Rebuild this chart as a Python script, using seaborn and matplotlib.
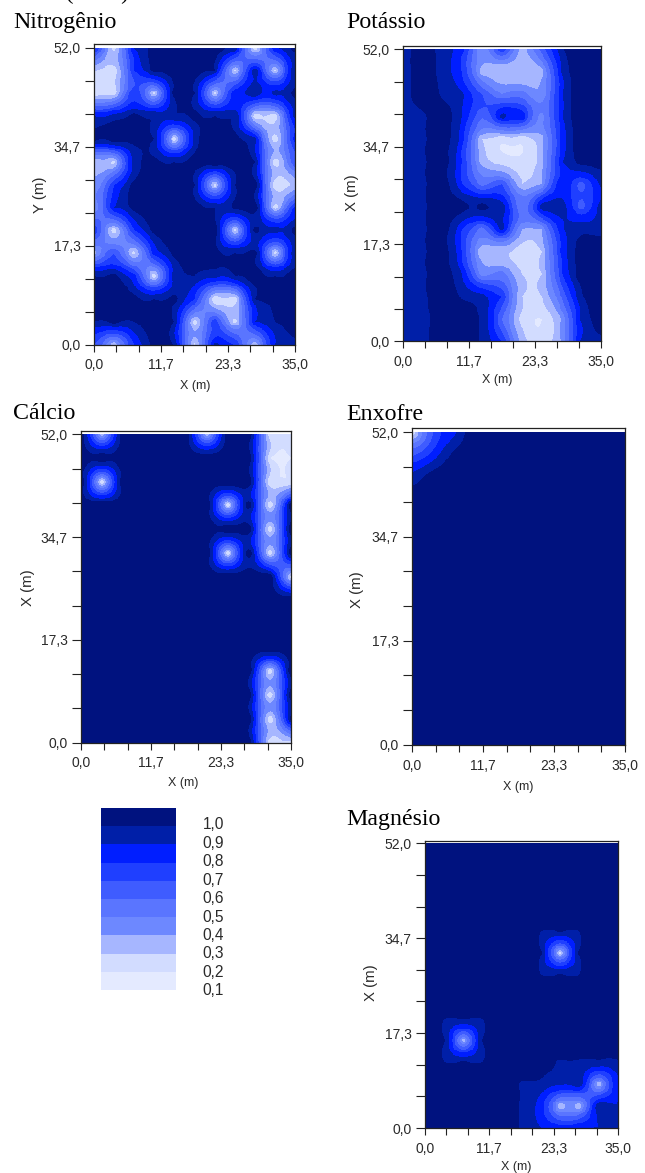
import numpy as np
import matplotlib
matplotlib.use("Agg")
import matplotlib.pyplot as plt
from matplotlib.colors import ListedColormap, BoundaryNorm
from matplotlib.transforms import Affine2D
import seaborn as sns

W, H = 645, 1173

# sampling grid of the maps
grid_x = [0, 3.5, 7, 10.5, 14, 17.5, 21, 24.5, 28, 31.5, 35]
grid_y = [52, 48, 44, 40, 36, 32, 28, 24, 20, 16, 12, 8, 4, 0]

# values (rows run from Y=52 down to Y=0, columns from X=0 to X=35)
nitrogenio = [
    [.75, .15, .80, .95, 1.0, 1.0, 1.0, .90, .12, .80, .95],
    [.20, .12, .70, .95, 1.0, 1.0, .90, .15, .90, .15, .90],
    [.12, .12, .70, .15, .95, .90, .15, .80, .90, .85, .95],
    [.80, .85, .95, .90, .90, .95, .90, .90, .12, .12, .85],
    [.95, 1.0, .95, .90, .12, .85, 1.0, .95, .85, .12, .75],
    [.20, .15, .85, .95, .90, 1.0, 1.0, 1.0, .90, .12, .60],
    [.30, .70, .95, 1.0, 1.0, .90, .12, .90, 1.0, .10, .20],
    [.30, .80, .95, 1.0, 1.0, 1.0, .90, .95, 1.0, .12, .75],
    [.70, .12, .70, .95, 1.0, 1.0, 1.0, .12, .95, .85, .95],
    [.25, .60, .15, .75, .95, 1.0, .95, .90, .95, .12, .90],
    [.90, .95, .75, .12, .85, .90, .85, .90, 1.0, .90, 1.0],
    [1.0, 1.0, .95, .90, .95, .70, .10, .12, .90, .90, 1.0],
    [.90, .95, .90, 1.0, .90, .12, .70, .15, .80, .90, .95],
    [.60, .20, .70, .95, .90, .15, .85, .70, .20, .80, .90],
]
potassio = [
    [.85, .97, .85, .75, .30, .70, .25, .55, .88, 1.0, .90],
    [.85, .97, .85, .70, .25, .20, .20, .25, .80, 1.0, 1.0],
    [.85, .97, .88, .82, .60, .40, .45, .30, .78, 1.0, 1.0],
    [.85, .88, .97, .80, .50, .85, .80, .35, .78, 1.0, 1.0],
    [.85, .88, .97, .75, .20, .12, .12, .25, .72, 1.0, 1.0],
    [.85, .88, .97, .70, .25, .15, .12, .25, .78, .95, .97],
    [.85, .88, .97, .70, .45, .60, .20, .30, .80, .55, .82],
    [.85, .88, .97, .95, .95, .88, .40, .88, .88, .55, .85],
    [.85, .88, .97, .70, .45, .85, .30, .30, .78, .88, .85],
    [.85, .88, .97, .70, .20, .20, .12, .20, .72, .97, 1.0],
    [.85, .88, .97, .80, .35, .45, .20, .20, .68, .97, 1.0],
    [.85, .88, .97, .88, .85, .70, .20, .20, .50, .88, 1.0],
    [.85, .85, .97, 1.0, .88, .50, .15, .10, .30, .82, .95],
    [.85, .85, 1.0, 1.0, .88, .70, .25, .12, .30, .82, .88],
]
calcio = [
    [1.0, .20, 1.0, 1.0, 1.0, 1.0, .20, 1.0, 1.0, .12, .10],
    [1.0, 1.0, 1.0, 1.0, 1.0, 1.0, 1.0, 1.0, 1.0, .10, .10],
    [1.0, .10, 1.0, 1.0, 1.0, 1.0, 1.0, 1.0, 1.0, .10, .10],
    [1.0, 1.0, 1.0, 1.0, 1.0, 1.0, 1.0, .10, 1.0, .10, 1.0],
    [1.0, 1.0, 1.0, 1.0, 1.0, 1.0, 1.0, 1.0, 1.0, .10, 1.0],
    [1.0, 1.0, 1.0, 1.0, 1.0, 1.0, 1.0, .10, 1.0, .10, 1.0],
    [1.0, 1.0, 1.0, 1.0, 1.0, 1.0, 1.0, 1.0, 1.0, 1.0, .15],
    [1.0, 1.0, 1.0, 1.0, 1.0, 1.0, 1.0, 1.0, 1.0, 1.0, 1.0],
    [1.0, 1.0, 1.0, 1.0, 1.0, 1.0, 1.0, 1.0, 1.0, 1.0, 1.0],
    [1.0, 1.0, 1.0, 1.0, 1.0, 1.0, 1.0, 1.0, 1.0, 1.0, 1.0],
    [1.0, 1.0, 1.0, 1.0, 1.0, 1.0, 1.0, 1.0, 1.0, .10, 1.0],
    [1.0, 1.0, 1.0, 1.0, 1.0, 1.0, 1.0, 1.0, 1.0, .10, 1.0],
    [1.0, 1.0, 1.0, 1.0, 1.0, 1.0, 1.0, 1.0, 1.0, .10, .95],
    [1.0, 1.0, 1.0, 1.0, 1.0, 1.0, 1.0, 1.0, 1.0, .10, .15],
]
enxofre = [
    [.10, .60, .78, 1.0, 1.0, 1.0, 1.0, 1.0, 1.0, 1.0, 1.0],
    [.60, .75, .95, 1.0, 1.0, 1.0, 1.0, 1.0, 1.0, 1.0, 1.0],
    [.85, 1.0, 1.0, 1.0, 1.0, 1.0, 1.0, 1.0, 1.0, 1.0, 1.0],
] + [[1.0] * 11 for _ in range(11)]
magnesio = [[1.0] * 11 for _ in range(4)] + [
    [1.0, 1.0, 1.0, 1.0, 1.0, 1.0, .90, .93, .90, 1.0, 1.0],
    [1.0, 1.0, 1.0, 1.0, 1.0, 1.0, .93, .15, .93, 1.0, 1.0],
    [1.0, 1.0, 1.0, 1.0, 1.0, 1.0, .90, .93, .90, 1.0, 1.0],
    [1.0, 1.0, 1.0, 1.0, 1.0, 1.0, 1.0, 1.0, 1.0, 1.0, 1.0],
    [1.0, .90, .93, .90, 1.0, 1.0, 1.0, 1.0, 1.0, 1.0, 1.0],
    [1.0, .93, .20, .93, 1.0, 1.0, 1.0, 1.0, 1.0, 1.0, 1.0],
    [1.0, .90, .93, .90, 1.0, 1.0, .95, .88, .88, .88, .88],
    [1.0, 1.0, 1.0, 1.0, 1.0, .88, .88, .82, .90, .20, .80],
    [1.0, 1.0, 1.0, 1.0, 1.0, .88, .75, .20, .20, .90, .80],
    [1.0, 1.0, 1.0, 1.0, 1.0, .88, .80, .75, .80, .80, .88],
]

class_values = [1.0, .9, .8, .7, .6, .5, .4, .3, .2, .1]
class_labels = ["1,0", "0,9", "0,8", "0,7", "0,6", "0,5", "0,4", "0,3", "0,2", "0,1"]
class_colors = ["#00127f", "#001fa8", "#001eff", "#1f3fff", "#3f5cff",
                "#5a75ff", "#6d88ff", "#a6b6ff", "#d2dcff", "#e4eaff"]
x_ticks = [0, 3.89, 7.78, 11.67, 15.56, 19.44, 23.33, 27.22, 31.11, 35]
x_labels = ["0,0", "", "", "11,7", "", "", "23,3", "", "", "35,0"]
y_ticks = [0, 5.78, 11.56, 17.33, 23.11, 28.89, 34.67, 40.44, 46.22, 52]
y_labels = ["0,0", "", "", "17,3", "", "", "34,7", "", "", "52,0"]

sns.set_theme(style="white")
plt.rcParams["font.family"] = ["Liberation Sans", "DejaVu Sans"]

cmap = ListedColormap(class_colors[::-1])
norm = BoundaryNorm(np.linspace(0, 1.0, 11), cmap.N, clip=True)
TXT = "#2a2a2a"

NX, NY = 210, 312
fine_x = (np.arange(NX) + .5) / NX * 35
fine_y = (np.arange(NY) + .5) / NY * 52


def resample(rows, rng):
    """Ordinary kriging (exponential model) of the sampled grid on a fine raster."""
    vals = np.array(rows, float).ravel()
    gx, gy = np.meshgrid(grid_x, grid_y)
    px, py = gx.ravel(), gy.ravel()
    n = vals.size
    cov = np.exp(-np.hypot(px[:, None] - px, py[:, None] - py) / rng)
    A = np.zeros((n + 1, n + 1))
    A[:n, :n] = cov
    A[:n, n] = A[n, :n] = 1
    sol = np.linalg.solve(A, np.append(vals, 0))
    fx, fy = np.meshgrid(fine_x, fine_y)
    c = np.exp(-np.hypot(fx[..., None] - px, fy[..., None] - py) / rng)
    return np.clip(c @ sol[:n] + sol[n], 0, 1)


def px_transform():
    return Affine2D().scale(1 / W, -1 / H).translate(0, 1) + fig.transFigure


fig = plt.figure(figsize=(W / 100, H / 100), dpi=100, facecolor="white")

panels = [
    # title, data, model range, left, right, top edge, y of 52, y of 0, title xy, xlabel xy, ylabel, ylabel xy
    ("Nitrogênio", nitrogenio, 4, 94, 295, 44, 47.7, 344.5, (13, 28), (195, 386), "Y (m)", (40, 195)),
    ("Potássio", potassio, 8, 403, 601, 46, 49.3, 341.5, (346, 28), (497, 380), "X (m)", (352, 193)),
    ("Cálcio", calcio, 4, 81, 291, 431, 434.3, 742.5, (13, 419), (183, 783), "X (m)", (28, 588)),
    ("Enxofre", enxofre, 4, 412, 625, 428, 432.3, 745, (346, 420), (518, 787), "X (m)", (357, 590)),
    ("Magnésio", magnesio, 3, 425, 618, 840.5, 843.3, 1128, (346, 825), (516, 1167), "X (m)", (371, 983)),
]

for title, rows, rng, l, r, top, y52, y0, txy, xxy, ylab, yxy in panels:
    ax = fig.add_axes([l / W, 1 - y0 / H, (r - l) / W, (y0 - top) / H])
    sns.heatmap(resample(rows, rng), ax=ax, cmap=cmap, norm=norm, cbar=False,
                xticklabels=False, yticklabels=False)
    ymax = 52 * (y0 - top) / (y0 - y52)
    ax.set_xlim(0, NX)
    ax.set_ylim(0, ymax / 52 * NY)
    ax.set_xticks(np.array(x_ticks) / 35 * NX, x_labels)
    ax.set_yticks(np.array(y_ticks) / 52 * NY, y_labels, rotation=0)
    ax.tick_params(axis="x", bottom=True, length=5, width=.8, color="#222222",
                   labelsize=10, labelcolor=TXT, pad=5)
    ax.tick_params(axis="y", left=True, length=6.5, width=.8, color="#222222",
                   labelsize=10, labelcolor=TXT, pad=3)
    for s in ax.spines.values():
        s.set_visible(True)
        s.set_color("#222222")
        s.set_linewidth(.9)
    fig.text(txy[0], txy[1], title, transform=px_transform(), family="Liberation Serif",
             fontsize=17.2, color="black", ha="left", va="baseline")
    ax.set_xlabel("X (m)", fontsize=9, color=TXT, va="center")
    ax.xaxis.set_label_coords(xxy[0], xxy[1], transform=px_transform())
    ax.set_ylabel(ylab, fontsize=10.8, color=TXT, va="center", rotation=90)
    ax.yaxis.set_label_coords(yxy[0], yxy[1], transform=px_transform())

# classes legend
lax = fig.add_axes([101 / W, 1 - 990 / H, 75 / W, 182 / H])
sns.heatmap(np.array(class_values).reshape(-1, 1), ax=lax, cmap=cmap,
            norm=BoundaryNorm(np.linspace(.05, 1.05, 11), cmap.N),
            cbar=False, xticklabels=False, yticklabels=False)
lax.yaxis.tick_right()
lax.set_yticks(np.arange(10) * 1.012 + .85, class_labels, rotation=0)
lax.tick_params(axis="y", right=False, left=False, labelsize=11.2, labelcolor=TXT, pad=13)

# clipped last line of the text above the figure, as in the reference
fig.text(41, -0.5, "ra (1993).", transform=px_transform(), family="Liberation Serif",
         fontsize=17.2, color="black", ha="left", va="baseline")

fig.savefig("out.png", dpi=100)
